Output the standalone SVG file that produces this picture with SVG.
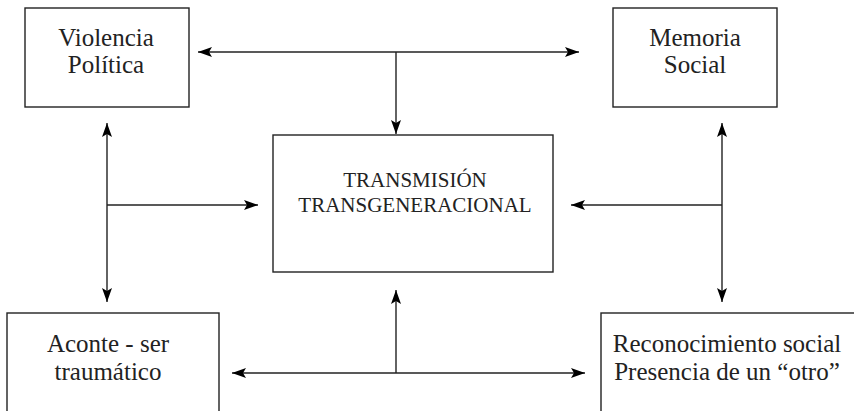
<svg xmlns="http://www.w3.org/2000/svg" width="854" height="411" viewBox="0 0 854 411">
<defs>
<marker id="ah" viewBox="0 0 14 10" refX="14" refY="5" markerWidth="14" markerHeight="10" markerUnits="userSpaceOnUse" orient="auto-start-reverse">
<path d="M0,0 L14,5 L0,10 L3,5 z" fill="#000"/>
</marker>
<style>
.box{fill:#fff;stroke:#222;stroke-width:1.4}
.t{font-family:"Liberation Serif",serif;font-size:25px;fill:#222;text-anchor:middle}
.tc{font-family:"Liberation Serif",serif;font-size:21px;fill:#222;text-anchor:middle}
.c{stroke:#222;stroke-width:1.4;fill:none}
</style>
</defs>
<rect width="854" height="411" fill="#fff"/>
<g id="violencia">
<rect class="box" x="25" y="8" width="164" height="99"/>
<text class="t" x="106" y="46">Violencia</text>
<text class="t" x="106" y="73">Política</text>
</g>
<g id="memoria">
<rect class="box" x="613" y="8" width="164" height="99"/>
<text class="t" x="695" y="46">Memoria</text>
<text class="t" x="695" y="73">Social</text>
</g>
<g id="transmision">
<rect class="box" x="273" y="135" width="280" height="137"/>
<text class="tc" x="415" y="187">TRANSMISIÓN</text>
<text class="tc" x="415" y="212">TRANSGENERACIONAL</text>
</g>
<g id="aconte">
<rect class="box" x="7" y="313" width="212" height="120"/>
<text class="t" x="108" y="352">Aconte - ser</text>
<text class="t" x="108" y="380">traumático</text>
</g>
<g id="reconocimiento">
<rect class="box" x="601" y="313" width="270" height="120"/>
<text class="t" x="727" y="352">Reconocimiento social</text>
<text class="t" x="727" y="380">Presencia de un “otro”</text>
</g>
<g id="connectors">
<line class="c" x1="198" y1="52" x2="579" y2="52" marker-start="url(#ah)" marker-end="url(#ah)"/>
<line class="c" x1="396" y1="52" x2="396" y2="134" marker-end="url(#ah)"/>
<line class="c" x1="107" y1="123" x2="107" y2="302" marker-start="url(#ah)" marker-end="url(#ah)"/>
<line class="c" x1="107" y1="205" x2="258" y2="205" marker-end="url(#ah)"/>
<line class="c" x1="722" y1="123" x2="722" y2="302" marker-start="url(#ah)" marker-end="url(#ah)"/>
<line class="c" x1="722" y1="205" x2="571" y2="205" marker-end="url(#ah)"/>
<line class="c" x1="232" y1="373" x2="585" y2="373" marker-start="url(#ah)" marker-end="url(#ah)"/>
<line class="c" x1="396" y1="373" x2="396" y2="290" marker-end="url(#ah)"/>
</g>
</svg>
